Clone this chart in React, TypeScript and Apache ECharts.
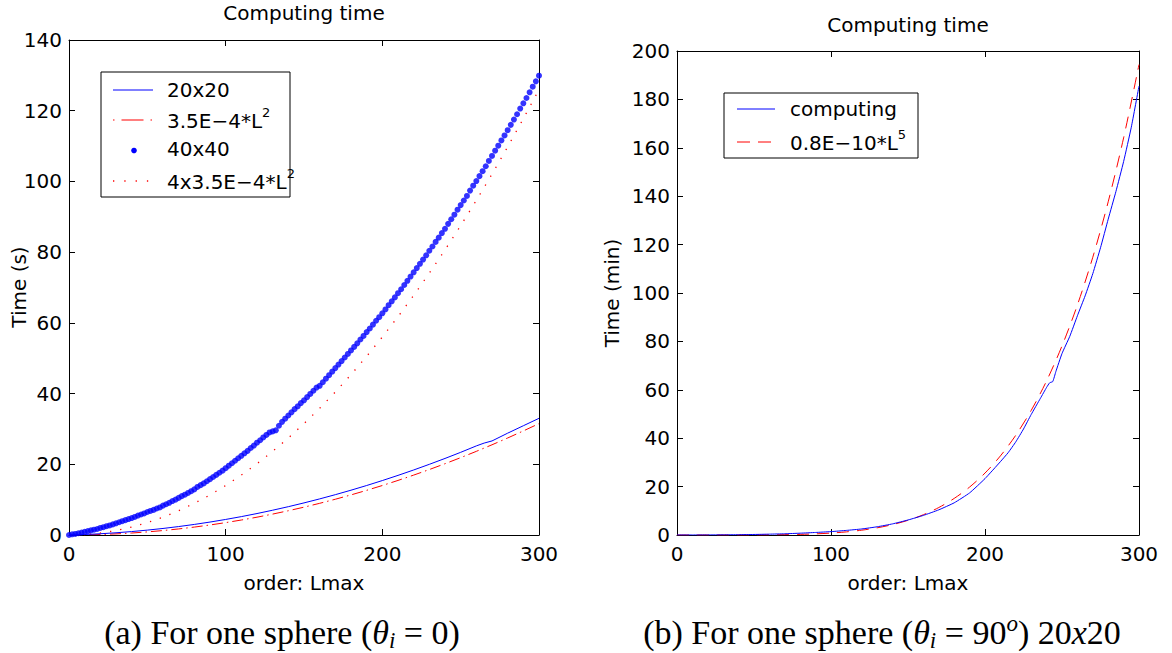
import React, { useEffect, useRef } from "react";
import * as echarts from "echarts";

const SANS = "'DejaVu Sans', sans-serif";
const SERIF = "'Liberation Serif', serif";
const BLUE = "#0000ff";
const RED = "#ff0000";

// ---------- Panel (a) ----------
const titleA = "Computing time";
const xNameA = "order: Lmax";
const yNameA = "Time (s)";
const xMinA = 0, xMaxA = 300, xStepA = 100;
const yMinA = 0, yMaxA = 140, yStepA = 20;

// 20x20 computation (solid blue)
const L20 = [0, 10, 20, 30, 40, 50, 60, 70, 80, 90, 100, 110, 120, 130, 140, 150, 160, 170, 180, 190, 200, 210, 220, 230, 240, 250, 260, 265, 270, 280, 290, 300];
const t20 = [0, 0.14, 0.35, 0.63, 0.97, 1.38, 1.85, 2.39, 2.99, 3.66, 4.4, 5.2, 6.07, 7.01, 8.01, 9.08, 10.21, 11.41, 12.67, 14.0, 15.4, 16.86, 18.39, 19.99, 21.65, 23.38, 25.2, 26.0, 26.6, 28.8, 30.9, 33.0];

// fit 3.5E-4*L^2 (red dash-dot) and 4x3.5E-4*L^2 (red dotted)
const Lfit = [0, 10, 20, 30, 40, 50, 60, 70, 80, 90, 100, 110, 120, 130, 140, 150, 160, 170, 180, 190, 200, 210, 220, 230, 240, 250, 260, 270, 280, 290, 300];
const fit1 = [0, 0.035, 0.14, 0.315, 0.56, 0.875, 1.26, 1.715, 2.24, 2.835, 3.5, 4.235, 5.04, 5.915, 6.86, 7.875, 8.96, 10.115, 11.34, 12.635, 14, 15.435, 16.94, 18.515, 20.16, 21.875, 23.66, 25.515, 27.44, 29.435, 31.5];
const fit4 = [0, 0.14, 0.56, 1.26, 2.24, 3.5, 5.04, 6.86, 8.96, 11.34, 14, 16.94, 20.16, 23.66, 27.44, 31.5, 35.84, 40.46, 45.36, 50.54, 56, 61.74, 67.76, 74.06, 80.64, 87.5, 94.64, 102.06, 109.76, 117.74, 126];

// 40x40 computation (blue dots), one value every 2 orders from L=0 to L=300
const L40step = 2;
const t40 = [
  0.0, 0.2, 0.3, 0.5, 0.7, 0.9, 1.1, 1.3, 1.5, 1.7,
  2.0, 2.2, 2.5, 2.7, 3.0, 3.3, 3.6, 3.9, 4.2, 4.5,
  4.8, 5.1, 5.5, 5.8, 6.1, 6.5, 6.8, 7.1, 7.5, 7.8,
  8.3, 8.7, 9.1, 9.6, 10.0, 10.5, 11.0, 11.4, 11.9, 12.4,
  12.9, 13.6, 14.1, 14.6, 15.2, 15.8, 16.4, 17.0, 17.6, 18.2,
  18.9, 19.6, 20.3, 21.0, 21.7, 22.4, 23.1, 23.8, 24.6, 25.3,
  26.1, 26.8, 27.6, 28.3, 29.0, 29.3, 29.6, 30.9, 32.0, 32.9,
  33.8, 34.7, 35.6, 36.4, 37.3, 38.1, 39.0, 39.9, 40.8, 41.7,
  42.2, 43.2, 44.2, 45.2, 46.2, 47.2, 48.2, 49.2, 50.2, 51.2,
  52.2, 53.2, 54.2, 55.3, 56.3, 57.4, 58.4, 59.5, 60.6, 61.6,
  62.7, 63.8, 65.0, 66.1, 67.2, 68.4, 69.5, 70.7, 71.9, 73.1,
  74.3, 75.5, 76.7, 77.9, 79.1, 80.4, 81.6, 82.9, 84.1, 85.4,
  86.6, 88.0, 89.3, 90.6, 92.0, 93.3, 94.6, 95.9, 97.4, 98.8,
  100.1, 101.5, 102.9, 104.3, 105.8, 107.2, 108.7, 110.1, 111.6, 113.0,
  114.5, 116.0, 117.5, 119.0, 120.6, 122.1, 123.6, 125.2, 126.8, 128.3,
  129.9,
];

// ---------- Panel (b) ----------
const titleB = "Computing time";
const xNameB = "order: Lmax";
const yNameB = "Time (min)";
const xMinB = 0, xMaxB = 300, xStepB = 100;
const yMinB = 0, yMaxB = 200, yStepB = 20;

const Lcomp = [0, 10, 20, 30, 40, 50, 60, 70, 80, 90, 100, 110, 120, 130, 140, 150, 160, 170, 180, 190, 200, 210, 215, 220, 225, 230, 236, 240, 242, 244, 246, 250, 255, 260, 265, 270, 275, 280, 285, 290, 295, 300];
const tComp = [0, 0.01, 0.03, 0.07, 0.13, 0.22, 0.35, 0.5, 0.75, 1.05, 1.4, 1.9, 2.5, 3.4, 4.6, 6.2, 8.1, 10.4, 13.3, 17.4, 23.3, 30.3, 34.0, 38.5, 43.8, 49.8, 56.5, 61.0, 62.9, 63.4, 67.5, 75.0, 82.0, 90.6, 98.8, 108.0, 118.7, 130.5, 141.9, 154.3, 168.5, 185.5];

const Lfit5 = [0, 10, 20, 30, 40, 50, 60, 70, 80, 90, 100, 110, 120, 130, 140, 150, 160, 170, 180, 190, 200, 210, 220, 230, 240, 250, 260, 270, 280, 290, 300];
const fit5 = [0, 0, 0, 0.002, 0.008, 0.025, 0.062, 0.134, 0.262, 0.472, 0.8, 1.288, 1.991, 2.97, 4.303, 6.075, 8.389, 11.359, 15.117, 19.809, 25.6, 32.673, 41.229, 51.491, 63.701, 78.125, 95.051, 114.791, 137.683, 164.089, 194.4];

// legend labels
const legA = ["20x20", "3.5E\u22124*L", "40x40", "4x3.5E\u22124*L"];
const legAsup = ["", "2", "", "2"];
const legB = ["computing", "0.8E\u221210*L"];
const legBsup = ["", "5"];

const pairs = (xs: number[], ys: number[]) => xs.map((x, i) => [x, ys[i]]);

export default function App() {
  const ref = useRef<HTMLDivElement>(null);
  useEffect(() => {
    if (!ref.current) return;
    const chart = echarts.init(ref.current, undefined, { renderer: "svg" });

    const gridA = { left: 69, top: 40, width: 470, height: 495 };
    const gridB = { left: 677, top: 51, width: 462, height: 484 };

    const lbl = { color: "#000", fontSize: 20, fontFamily: SANS };
    const axLine = { show: true, onZero: false, lineStyle: { color: "#000", width: 1 } };
    const tick = { show: true, inside: true, length: 6, lineStyle: { color: "#000", width: 1 } };

    const xAx = (g: number, min: number, max: number, step: number, pos: string, showLabel: boolean) => ({
      type: "value", gridIndex: g, min, max, interval: step, position: pos,
      axisLine: axLine, axisTick: tick, splitLine: { show: false },
      axisLabel: { show: showLabel, margin: 9, ...lbl },
    });
    const yAx = (g: number, min: number, max: number, step: number, pos: string, showLabel: boolean) => ({
      type: "value", gridIndex: g, min, max, interval: step, position: pos,
      axisLine: axLine, axisTick: tick, splitLine: { show: false },
      axisLabel: { show: showLabel, margin: 7, ...lbl },
    });

    const txt = (x: number, y: number, text: string, extra: any = {}) => ({
      type: "text", x, y, z: 120,
      style: { text, fill: "#000", font: `20px ${SANS}`, align: "center", verticalAlign: "middle", ...extra },
    });

    const supText = (x: number, y: number, main: string, sup: string) => ({
      type: "text", x, y, z: 120,
      style: {
        text: sup ? `{m|${main}}{s|${sup}}` : `{m|${main}}`,
        align: "left", verticalAlign: "middle",
        rich: {
          m: { fontSize: 20, fontFamily: SANS, fill: "#000", lineHeight: 30, verticalAlign: "middle" },
          s: { fontSize: 13, fontFamily: SANS, fill: "#000", lineHeight: 12, verticalAlign: "top" },
        },
      },
    });

    const capRich = {
      n: { fontSize: 34, fontFamily: SERIF, fill: "#000", lineHeight: 40, verticalAlign: "middle" },
      m: { fontSize: 34, fontFamily: SERIF, fontStyle: "italic", fill: "#000", lineHeight: 40, verticalAlign: "middle" },
      s: { fontSize: 23, fontFamily: SERIF, fontStyle: "italic", fill: "#000", lineHeight: 27, verticalAlign: "bottom" },
      p: { fontSize: 23, fontFamily: SERIF, fontStyle: "italic", fill: "#000", lineHeight: 24, verticalAlign: "top" },
    };

    const graphic: any[] = [
      txt(304, 13, titleA),
      txt(908, 25, titleB),
      txt(304, 583, xNameA),
      txt(908, 583, xNameB),
      { ...txt(19, 287, yNameA), rotation: Math.PI / 2 },
      { ...txt(612, 293, yNameB), rotation: Math.PI / 2 },
      // legend (a)
      { type: "rect", z: 110, shape: { x: 101, y: 72, width: 189, height: 125 }, style: { fill: "#fff", stroke: "#000", lineWidth: 1 } },
      { type: "line", z: 115, shape: { x1: 113, y1: 90, x2: 153, y2: 90 }, style: { stroke: BLUE, lineWidth: 1 } },
      { type: "line", z: 115, shape: { x1: 113, y1: 120, x2: 153, y2: 120 }, style: { stroke: RED, lineWidth: 1.2, lineDash: [1.5, 7, 22, 7, 1.5, 50] } },
      { type: "circle", z: 115, shape: { cx: 134, cy: 150.5, r: 2.8 }, style: { fill: BLUE } },
      { type: "line", z: 115, shape: { x1: 113, y1: 181, x2: 153, y2: 181 }, style: { stroke: RED, lineWidth: 1.3, lineDash: [1.3, 10] } },
      supText(167, 89.5, legA[0], legAsup[0]),
      supText(167, 121, legA[1], legAsup[1]),
      supText(167, 148.5, legA[2], legAsup[2]),
      supText(167, 181.5, legA[3], legAsup[3]),
      // legend (b)
      { type: "rect", z: 110, shape: { x: 724, y: 93, width: 194, height: 65 }, style: { fill: "#fff", stroke: "#000", lineWidth: 1 } },
      { type: "line", z: 115, shape: { x1: 737, y1: 109, x2: 775, y2: 109 }, style: { stroke: BLUE, lineWidth: 1 } },
      { type: "line", z: 115, shape: { x1: 737, y1: 142, x2: 775, y2: 142 }, style: { stroke: RED, lineWidth: 1, lineDash: [13, 8] } },
      supText(790, 109, legB[0], legBsup[0]),
      supText(790, 142.5, legB[1], legBsup[1]),
      // captions
      {
        type: "text", x: 282, y: 632, z: 120,
        style: { text: "{n|(a) For one sphere (}{m|\u03b8}{s|i}{n| = 0)}", align: "center", verticalAlign: "middle", rich: capRich },
      },
      {
        type: "text", x: 882, y: 632, z: 120,
        style: { text: "{n|(b) For one sphere (}{m|\u03b8}{s|i}{n| = 90}{p|o}{n|) 20}{m|x}{n|20}", align: "center", verticalAlign: "middle", rich: capRich },
      },
    ];

    const option: any = {
      animation: false,
      backgroundColor: "#fff",
      grid: [
        { ...gridA, containLabel: false },
        { ...gridB, containLabel: false },
      ],
      xAxis: [
        xAx(0, xMinA, xMaxA, xStepA, "bottom", true),
        xAx(0, xMinA, xMaxA, xStepA, "top", false),
        xAx(1, xMinB, xMaxB, xStepB, "bottom", true),
        xAx(1, xMinB, xMaxB, xStepB, "top", false),
      ],
      yAxis: [
        yAx(0, yMinA, yMaxA, yStepA, "left", true),
        yAx(0, yMinA, yMaxA, yStepA, "right", false),
        yAx(1, yMinB, yMaxB, yStepB, "left", true),
        yAx(1, yMinB, yMaxB, yStepB, "right", false),
      ],
      series: [
        {
          name: "4x3.5E-4*L^2", type: "line", xAxisIndex: 0, yAxisIndex: 0, data: pairs(Lfit, fit4),
          showSymbol: false, smooth: false, lineStyle: { color: RED, width: 1.3, type: [1.3, 9] }, z: 2,
        },
        {
          name: "40x40", type: "scatter", xAxisIndex: 0, yAxisIndex: 0,
          data: t40.map((v, i) => [i * L40step, v]), symbol: "circle", symbolSize: 6,
          itemStyle: { color: BLUE }, z: 3,
        },
        {
          name: "3.5E-4*L^2", type: "line", xAxisIndex: 0, yAxisIndex: 0, data: pairs(Lfit, fit1),
          showSymbol: false, lineStyle: { color: RED, width: 1, type: [11, 4, 1.5, 4] }, z: 2,
        },
        {
          name: "20x20", type: "line", xAxisIndex: 0, yAxisIndex: 0, data: pairs(L20, t20),
          showSymbol: false, lineStyle: { color: BLUE, width: 1 }, z: 4,
        },
        {
          name: "0.8E-10*L^5", type: "line", xAxisIndex: 2, yAxisIndex: 2, data: pairs(Lfit5, fit5),
          showSymbol: false, smooth: 0.3, lineStyle: { color: RED, width: 1, type: [12, 8] }, z: 2,
        },
        {
          name: "computing", type: "line", xAxisIndex: 2, yAxisIndex: 2, data: pairs(Lcomp, tComp),
          showSymbol: false, smooth: 0.15, lineStyle: { color: BLUE, width: 1 }, z: 4,
        },
      ],
      graphic,
    };
    chart.setOption(option);
    return () => chart.dispose();
  }, []);

  return <div ref={ref} style={{ position: "absolute", left: 0, top: 0, width: 1172, height: 653, background: "#fff" }} />;
}
